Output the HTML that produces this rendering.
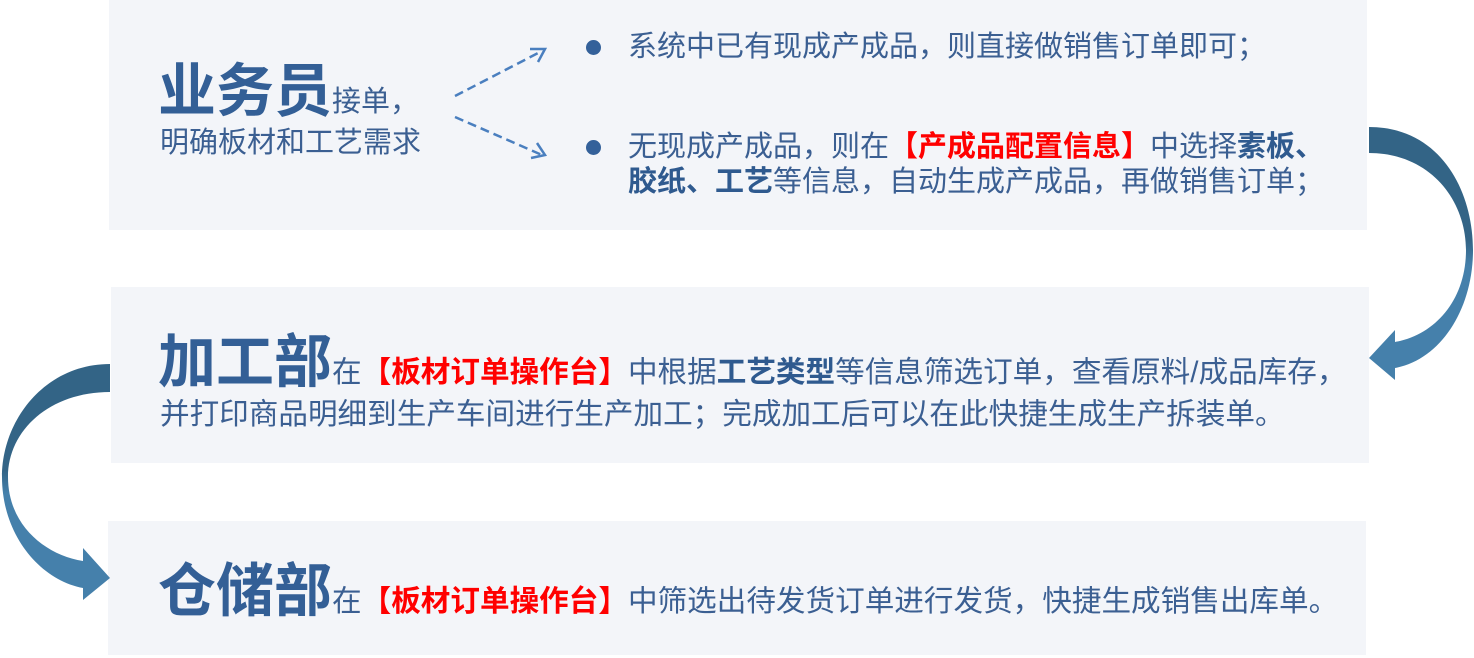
<!DOCTYPE html>
<html><head><meta charset="utf-8"><style>
body{margin:0;width:1474px;height:658px;background:#fff;position:relative;overflow:hidden;font-family:"Liberation Sans","Noto Sans CJK SC",sans-serif;color:#3b5f92;}
.p{position:absolute;background:#f3f5f9;}
.t{position:absolute;white-space:nowrap;font-size:29px;line-height:35px;}
.w{font-size:29.6px;}
.big{font-size:58px;font-weight:bold;color:#335f96;}
.r{color:#ff0000;font-weight:bold;}
.b{font-weight:bold;color:#2f5a8f;}
.dot{position:absolute;width:15px;height:15px;border-radius:50%;background:#34619a;}
</style></head><body>
<div class="p" style="left:109px;top:0;width:1258px;height:230px"></div>
<div class="p" style="left:111px;top:287px;width:1258px;height:176px"></div>
<div class="p" style="left:108px;top:521px;width:1258px;height:134px"></div>

<svg width="1474" height="658" style="position:absolute;left:0;top:0">
<defs>
<linearGradient id="g" x1="0" y1="0" x2="0" y2="1"><stop offset="0.45" stop-color="#336486"/><stop offset="0.55" stop-color="#4580ab"/></linearGradient>
<linearGradient id="g2" x1="0" y1="0" x2="0" y2="1"><stop offset="0.45" stop-color="#336486"/><stop offset="0.55" stop-color="#4580ab"/></linearGradient>
</defs>
<path d="M1369,127 C1440,127 1473,190 1473,250 C1473,310 1440,360 1395,368 L1395,380 L1369,358 L1395,330 L1395,342 C1435,335 1466,300 1466,250 C1466,200 1430,153 1369,153 Z" fill="url(#g)"/>
<path d="M110,364 C45,364 2,420 2,477 C2,535 40,580 83,588 L83,600 L110,578 L83,548 L83,561 C45,555 8,525 8,477 C8,430 50,392 110,392 Z" fill="url(#g2)"/>
<g stroke="#4a7fbf" stroke-width="2.5" fill="none" stroke-dasharray="9,5">
<line x1="455" y1="96" x2="542" y2="51"/>
<line x1="455" y1="117" x2="542" y2="155"/>
</g>
<g stroke="#4a7fbf" stroke-width="2.5" fill="none">
<polyline points="530,49 545,49 538,62"/>
<polyline points="537,143 545,155 531,158"/>
</g>
</svg>

<div class="t" style="left:158px;top:74px"><span class="big">业务员</span>接单，</div>
<div class="t" style="left:160px;top:126px">明确板材和工艺需求</div>

<div class="dot" style="left:586px;top:40px"></div>
<div class="dot" style="left:586px;top:140px"></div>
<div class="t" style="left:628px;top:30px">系统中已有现成产成品，则直接做销售订单即可；</div>
<div class="t" style="left:628px;top:130px">无现成产成品，则在<span class="r">【产成品配置信息】</span>中选择<span class="b">素板、</span></div>
<div class="t" style="left:628px;top:165px"><span class="b">胶纸、工艺</span>等信息，自动生成产成品，再做销售订单；</div>

<div class="t w" style="left:158px;top:345px"><span class="big">加工部</span>在<span class="r">【板材订单操作台】</span>中根据<span class="b">工艺类型</span>等信息筛选订单，查看原料/成品库存，</div>
<div class="t w" style="left:160px;top:397px">并打印商品明细到生产车间进行生产加工；完成加工后可以在此快捷生成生产拆装单。</div>

<div class="t w" style="left:158px;top:574px"><span class="big">仓储部</span>在<span class="r">【板材订单操作台】</span>中筛选出待发货订单进行发货，快捷生成销售出库单。</div>
</body></html>
